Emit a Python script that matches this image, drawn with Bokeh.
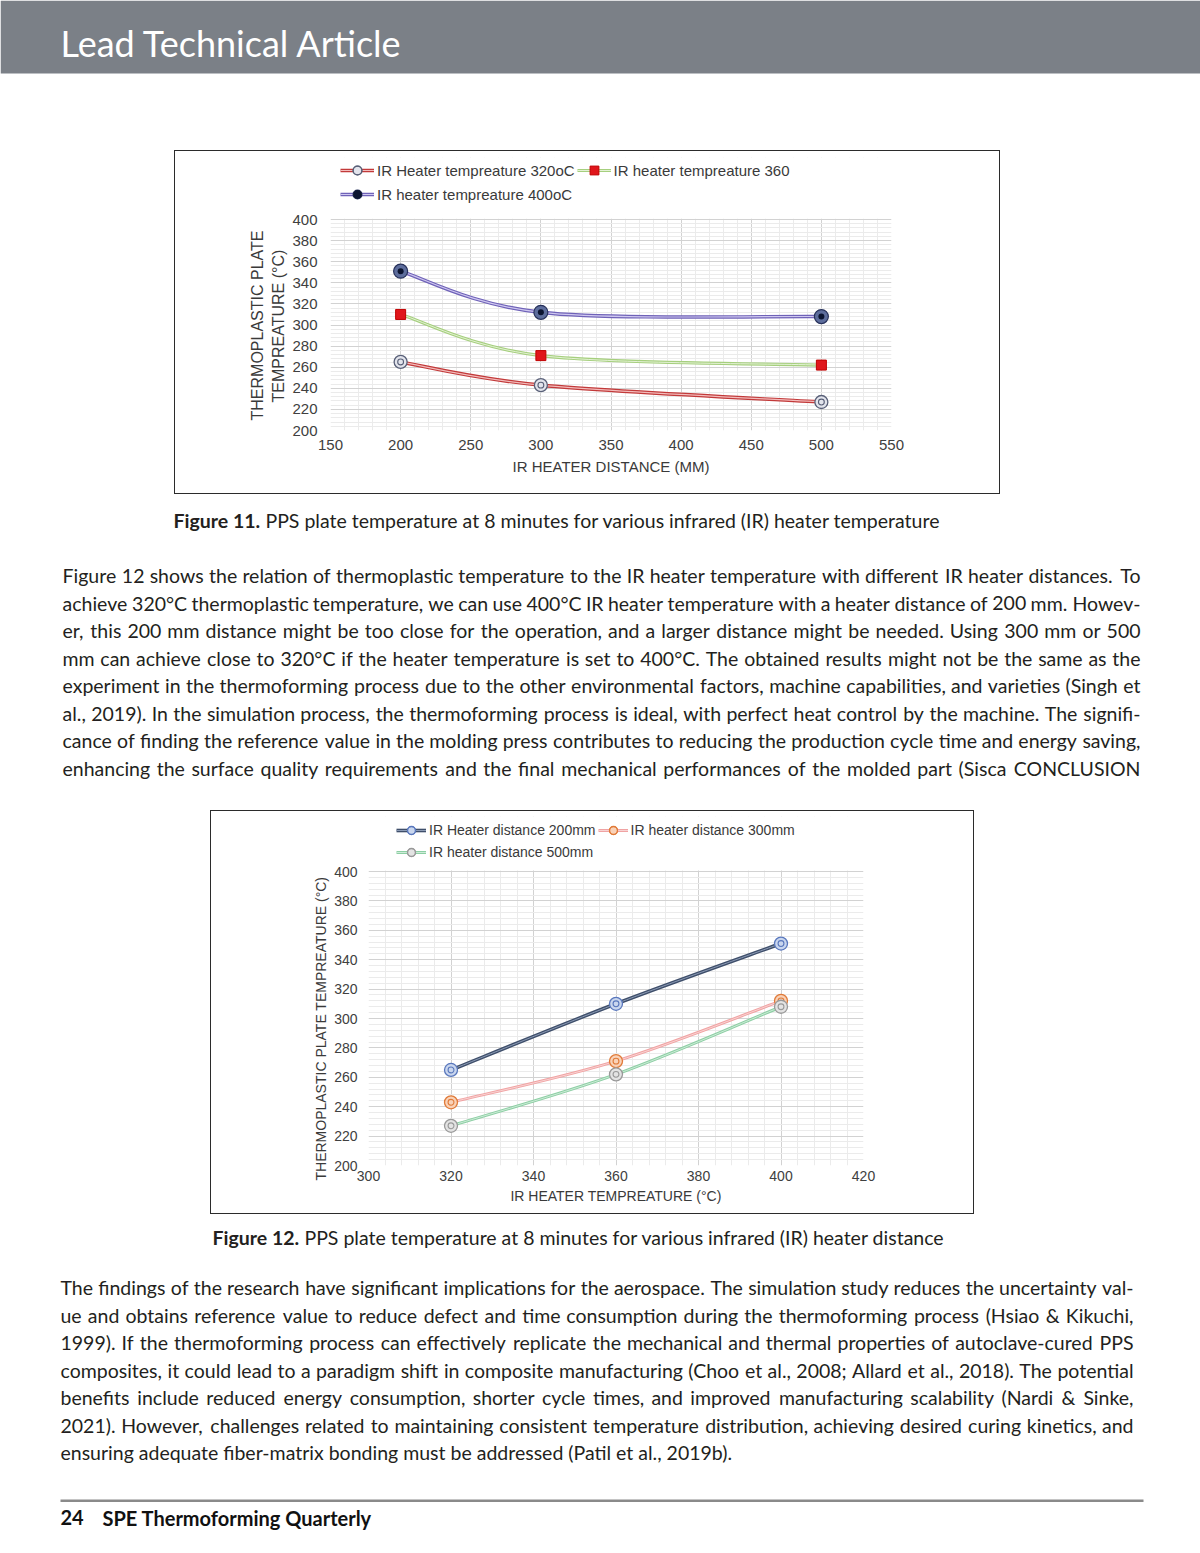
import os
import struct
import subprocess

from bokeh.plotting import figure
from bokeh.layouts import column, row
from bokeh.models import (Range1d, Spacer, FixedTicker, Legend, LegendItem, ColumnDataSource,
                          BoxAnnotation, Title)
from bokeh.core.properties import value
from bokeh.embed import file_html
from bokeh.resources import INLINE

# ---------------- data ----------------
# Figure 11: plate temperature vs IR heater distance
dist_mm = [200, 300, 500]
plate_320 = [265, 243, 227]
plate_360 = [310, 271, 262]
plate_400 = [351, 312, 308]
fig11_xticks = [150, 200, 250, 300, 350, 400, 450, 500, 550]
fig11_yticks = [200, 220, 240, 260, 280, 300, 320, 340, 360, 380, 400]

# Figure 12: plate temperature vs IR heater temperature
heater_temp = [320, 360, 400]
plate_200mm = [265, 310, 351]
plate_300mm = [243, 271, 312]
plate_500mm = [227, 262, 308]
fig12_xticks = [300, 320, 340, 360, 380, 400, 420]
fig12_yticks = [200, 220, 240, 260, 280, 300, 320, 340, 360, 380, 400]

# ---------------- page text ----------------
header_text = "Lead Technical Article"
caption11_bold = "Figure 11."
caption11_rest = "PPS plate temperature at 8 minutes for various infrared (IR) heater temperature"
caption12_bold = "Figure 12."
caption12_rest = "PPS plate temperature at 8 minutes for various infrared (IR) heater distance"
para1 = [
    "Figure 12 shows the relation of thermoplastic temperature to the IR heater temperature with different IR heater distances. To",
    "achieve 320°C thermoplastic temperature, we can use 400°C IR heater temperature with a heater distance of 200 mm. Howev-",
    "er, this 200 mm distance might be too close for the operation, and a larger distance might be needed. Using 300 mm or 500",
    "mm can achieve close to 320°C if the heater temperature is set to 400°C. The obtained results might not be the same as the",
    "experiment in the thermoforming process due to the other environmental factors, machine capabilities, and varieties (Singh et",
    "al., 2019). In the simulation process, the thermoforming process is ideal, with perfect heat control by the machine. The signifi-",
    "cance of finding the reference value in the molding press contributes to reducing the production cycle time and energy saving,",
    "enhancing the surface quality requirements and the final mechanical performances of the molded part (Sisca CONCLUSION",
]
para2 = [
    "The findings of the research have significant implications for the aerospace. The simulation study reduces the uncertainty val-",
    "ue and obtains reference value to reduce defect and time consumption during the thermoforming process (Hsiao & Kikuchi,",
    "1999). If the thermoforming process can effectively replicate the mechanical and thermal properties of autoclave-cured PPS",
    "composites, it could lead to a paradigm shift in composite manufacturing (Choo et al., 2008; Allard et al., 2018). The potential",
    "benefits include reduced energy consumption, shorter cycle times, and improved manufacturing scalability (Nardi & Sinke,",
    "2021). However, challenges related to maintaining consistent temperature distribution, achieving desired curing kinetics, and",
    "ensuring adequate fiber-matrix bonding must be addressed (Patil et al., 2019b).",
]
footer_num = "24"
footer_title = "SPE Thermoforming Quarterly"

BODY_FONT = "Lato"
BODY_FS = 19.5
TEXT_COLOR = "#231f20"
PAGE_W = 1200


# ---------------- font metrics (for justified text) ----------------
def find_font(filenames, fc_query):
    for d in ["/usr/share/fonts", "/usr/local/share/fonts",
              os.path.expanduser("~/.fonts"), os.path.expanduser("~/.local/share/fonts")]:
        if not os.path.isdir(d):
            continue
        for root, _, files in os.walk(d):
            for fn in files:
                if fn in filenames:
                    return os.path.join(root, fn)
    try:
        r = subprocess.run(["fc-match", "-f", "%{file}", fc_query],
                           capture_output=True, text=True, timeout=10)
        path = r.stdout.strip()
        if path and os.path.exists(path) and "lato" in os.path.basename(path).lower():
            return path
    except Exception:
        pass
    return None


def make_measure(path):
    data = open(path, "rb").read()
    num_tables = struct.unpack(">H", data[4:6])[0]
    tables = {}
    for i in range(num_tables):
        tag, _cs, off, ln = struct.unpack(">4sIII", data[12 + 16 * i:28 + 16 * i])
        tables[tag.decode("latin1")] = (off, ln)
    head = tables["head"][0]
    upem = struct.unpack(">H", data[head + 18:head + 20])[0]
    hhea = tables["hhea"][0]
    n_hm = struct.unpack(">H", data[hhea + 34:hhea + 36])[0]
    hmtx = tables["hmtx"][0]
    adv = [struct.unpack(">H", data[hmtx + 4 * i:hmtx + 4 * i + 2])[0] for i in range(n_hm)]
    cmap = tables["cmap"][0]
    n_sub = struct.unpack(">H", data[cmap + 2:cmap + 4])[0]
    sub = None
    for i in range(n_sub):
        pid, eid, off = struct.unpack(">HHI", data[cmap + 4 + 8 * i:cmap + 12 + 8 * i])
        fmt = struct.unpack(">H", data[cmap + off:cmap + off + 2])[0]
        if fmt == 4 and pid in (0, 3):
            sub = cmap + off
            break
    if sub is None:
        return None
    segx2 = struct.unpack(">H", data[sub + 6:sub + 8])[0]
    seg = segx2 // 2
    ends = struct.unpack(">%dH" % seg, data[sub + 14:sub + 14 + segx2])
    starts = struct.unpack(">%dH" % seg, data[sub + 16 + segx2:sub + 16 + 2 * segx2])
    deltas = struct.unpack(">%dh" % seg, data[sub + 16 + 2 * segx2:sub + 16 + 3 * segx2])
    rpos = sub + 16 + 3 * segx2
    roffs = struct.unpack(">%dH" % seg, data[rpos:rpos + segx2])
    cache = {}

    def gid(c):
        if c in cache:
            return cache[c]
        g = 0
        for i in range(seg):
            if ends[i] >= c:
                if starts[i] <= c:
                    if roffs[i] == 0:
                        g = (c + deltas[i]) & 0xFFFF
                    else:
                        addr = rpos + 2 * i + roffs[i] + 2 * (c - starts[i])
                        gg = struct.unpack(">H", data[addr:addr + 2])[0]
                        g = (gg + deltas[i]) & 0xFFFF if gg else 0
                break
        cache[c] = g
        return g

    def measure(s, size):
        tot = 0
        for ch in s:
            g = gid(ord(ch))
            tot += adv[min(g, n_hm - 1)]
        return tot * size / upem

    return measure


measure_reg = None
measure_bold = None
try:
    pr = find_font(["Lato-Regular.ttf"], "Lato:style=Regular")
    if pr:
        measure_reg = make_measure(pr)
    pb = find_font(["Lato-Bold.ttf"], "Lato:style=Bold")
    if pb:
        measure_bold = make_measure(pb)
except Exception:
    measure_reg = None
    measure_bold = None

# rendered alphabetic baseline sits ~0.39 em below the requested y; compensate
BASE_SHIFT = 0.39


def base(y, fs):
    return y - BASE_SHIFT * fs


# ---------------- helpers ----------------
def text_fig(h):
    f = figure(width=PAGE_W, height=h, x_range=Range1d(0, PAGE_W), y_range=Range1d(h, 0),
               x_axis_type=None, y_axis_type=None, toolbar_location=None,
               output_backend="svg", min_border=0, outline_line_color=None,
               background_fill_color="white", border_fill_color="white")
    f.xgrid.visible = False
    f.ygrid.visible = False
    return f


def paragraph(f, lines, x0, x1, base0, pitch, justify_last):
    lx, ly, lt = [], [], []
    rx, ry, rt = [], [], []
    for i, line in enumerate(lines):
        y = base(base0 + pitch * i, BODY_FS)
        last = i == len(lines) - 1
        words = line.split(" ")
        if measure_reg is None or (last and not justify_last) or len(words) < 2:
            lx.append(x0); ly.append(y); lt.append(line)
            continue
        ws = [measure_reg(w, BODY_FS) for w in words]
        gap = (x1 - x0 - sum(ws)) / (len(words) - 1)
        x = x0
        for j, (w, wd) in enumerate(zip(words, ws)):
            if j == len(words) - 1:
                rx.append(x1); ry.append(y); rt.append(w)
            else:
                lx.append(x); ly.append(y); lt.append(w)
            x += wd + gap
    common = dict(text_font=value(BODY_FONT), text_font_size="%.1fpx" % BODY_FS,
                  text_color=TEXT_COLOR, text_baseline="alphabetic")
    f.text(x=lx, y=ly, text=lt, text_align="left", **common)
    if rx:
        f.text(x=rx, y=ry, text=rt, text_align="right", **common)


def caption(f, x, y, bold, rest):
    yy = base(y, BODY_FS)
    f.text(x=[x], y=[yy], text=[bold], text_font=value(BODY_FONT), text_font_style="bold",
           text_font_size="%.1fpx" % BODY_FS, text_color=TEXT_COLOR,
           text_baseline="alphabetic", text_align="left")
    if measure_bold is not None and measure_reg is not None:
        xr = x + measure_bold(bold, BODY_FS) + measure_reg(" ", BODY_FS)
    else:
        xr = x + 100
    f.text(x=[xr], y=[yy], text=[rest], text_font=value(BODY_FONT),
           text_font_size="%.1fpx" % BODY_FS, text_color=TEXT_COLOR,
           text_baseline="alphabetic", text_align="left")


def minor_of(ticks, n=5):
    out = []
    for a, b in zip(ticks[:-1], ticks[1:]):
        for k in range(1, n):
            out.append(a + (b - a) * k / n)
    return out


def smooth_source(xs, ys, t=1.0 / 6.0):
    pts = list(zip(xs, ys))
    n = len(pts)
    d = dict(x0=[], y0=[], x1=[], y1=[], cx0=[], cy0=[], cx1=[], cy1=[])
    for i in range(n - 1):
        p0 = pts[i - 1] if i > 0 else pts[i]
        p1 = pts[i]
        p2 = pts[i + 1]
        p3 = pts[i + 2] if i + 2 < n else pts[i + 1]
        d["x0"].append(p1[0]); d["y0"].append(p1[1])
        d["x1"].append(p2[0]); d["y1"].append(p2[1])
        d["cx0"].append(p1[0] + (p2[0] - p0[0]) * t); d["cy0"].append(p1[1] + (p2[1] - p0[1]) * t)
        d["cx1"].append(p2[0] - (p3[0] - p1[0]) * t); d["cy1"].append(p2[1] - (p3[1] - p1[1]) * t)
    return ColumnDataSource(d)


def curve(p, xs, ys, outer, inner, w_out, w_in):
    src = smooth_source(xs, ys)
    a = p.bezier(x0="x0", y0="y0", x1="x1", y1="y1", cx0="cx0", cy0="cy0", cx1="cx1", cy1="cy1",
                 source=src, line_color=outer, line_width=w_out)
    b = p.bezier(x0="x0", y0="y0", x1="x1", y1="y1", cx0="cx0", cy0="cy0", cx1="cx1", cy1="cy1",
                 source=src, line_color=inner, line_width=w_in)
    return [a, b]


def ring(p, xs, ys, fill, edge, size=13):
    a = p.scatter(xs, ys, marker="circle", size=size, fill_color=fill, line_color=edge, line_width=1.3)
    b = p.scatter(xs, ys, marker="circle", size=size * 0.45, fill_color=None, line_color=edge,
                  line_width=1.1)
    return [a, b]


def style_chart(p, tick_fs, xlab_fs, x_stand, xl_stand, y_stand):
    for ax in (p.xaxis[0], p.yaxis[0]):
        ax.axis_line_color = None
        ax.major_tick_line_color = None
        ax.minor_tick_line_color = None
        ax.major_tick_out = 0
        ax.major_tick_in = 0
        ax.minor_tick_out = 0
        ax.minor_tick_in = 0
        ax.major_label_text_font = "Liberation Sans"
        ax.major_label_text_font_size = tick_fs
        ax.major_label_text_color = "#404040"
        ax.axis_label_text_font = "Liberation Sans"
        ax.axis_label_text_font_style = "normal"
        ax.axis_label_text_color = "#3a3a3a"
    p.xaxis[0].axis_label_text_font_size = xlab_fs
    p.xaxis[0].major_label_standoff = x_stand
    p.xaxis[0].axis_label_standoff = xl_stand
    p.yaxis[0].major_label_standoff = y_stand
    for g in (p.xgrid[0], p.ygrid[0]):
        g.grid_line_color = "#d2d2d2"
        g.grid_line_width = 1
        g.minor_grid_line_color = "#ebebeb"
        g.minor_grid_line_width = 1


def y_title(p, text, fs, offset, standoff):
    # vertical title on the left; align="left" anchors the text start at the frame bottom,
    # offset moves it up (positive) or down (negative)
    t = Title(text=text, align="left", offset=offset, standoff=standoff,
              text_font="Liberation Sans", text_font_size=fs, text_font_style="normal",
              text_color="#3a3a3a")
    p.add_layout(t, "left")


def style_legend(leg, fs, row_h, glyph_w):
    leg.orientation = "horizontal"
    leg.ncols = 2
    leg.label_text_font = "Liberation Sans"
    leg.label_text_font_size = fs
    leg.label_text_color = "#3a3a3a"
    leg.label_height = row_h
    leg.glyph_height = row_h
    leg.glyph_width = glyph_w
    leg.label_standoff = 3
    leg.spacing = 2
    leg.padding = 0
    leg.margin = 0
    leg.border_line_color = None
    leg.background_fill_alpha = 0


# ---------------- block A: header (page y 0..150) ----------------
blockA = text_fig(150)
blockA.quad(left=[0], right=[PAGE_W], top=[0], bottom=[73], fill_color="#7b8087", line_color=None)
blockA.text(x=[60], y=[base(57, 36)], text=[header_text], text_font=value(BODY_FONT),
            text_font_size="36px", text_color="white", text_baseline="alphabetic", text_align="left")

# ---------------- block B: Figure 11 chart (page y 150..496) ----------------
# frame spans page y 157..430; 200..400 occupies 219..430, the band above holds the legend
Y1_TOP = 200 + (430 - 157) * 200.0 / (430 - 219)
p1 = figure(width=826, height=344, x_range=Range1d(150, 550), y_range=Range1d(200, Y1_TOP),
            output_backend="svg", toolbar_location=None,
            min_border_left=155, min_border_right=110, min_border_top=6, min_border_bottom=65,
            outline_line_color=None, background_fill_color="white", border_fill_color="white",
            styles={"border": "1px solid #2b2b2b"})
p1.xaxis[0].ticker = FixedTicker(ticks=fig11_xticks, minor_ticks=minor_of(fig11_xticks))
p1.yaxis[0].ticker = FixedTicker(ticks=fig11_yticks, minor_ticks=minor_of(fig11_yticks))
p1.xaxis[0].axis_label = "IR HEATER DISTANCE (MM)"
style_chart(p1, "15px", "15px", 9, 5, 13)
# second line sits nearer the axis, so it is added first
y_title(p1, "TEMPREATURE (°C)", "16px", 28, 5)
y_title(p1, "THERMOPLASTIC PLATE", "16px", 10, 0)
p1.add_layout(BoxAnnotation(bottom=fig11_yticks[-1] + 0.8, top=Y1_TOP, fill_color="white",
                            fill_alpha=1.0, line_alpha=0))

c320 = curve(p1, dist_mm, plate_320, "#c23a3a", "#f3bcbc", 3.6, 1.2)
c360 = curve(p1, dist_mm, plate_360, "#a6cf7e", "#e4f2d6", 3.2, 1.0)
c400 = curve(p1, dist_mm, plate_400, "#6f62b8", "#cfc8f0", 3.6, 1.2)
r320 = ring(p1, dist_mm, plate_320, "#e2e4ec", "#596078", 13)
s360 = p1.scatter(dist_mm, plate_360, marker="square", size=10, fill_color="#e0161b",
                  line_color="#c00000")
d400a = p1.scatter(dist_mm, plate_400, marker="circle", size=14, fill_color="#5d6d9c",
                   line_color="#26305a", line_width=1.2)
d400b = p1.scatter(dist_mm, plate_400, marker="circle", size=6, fill_color="#0b1430", line_color=None)

# legend location: (x from frame left, legend bottom measured up from frame bottom)
leg1 = Legend(items=[
    LegendItem(label="IR Heater tempreature 320oC", renderers=c320 + r320),
    LegendItem(label="IR heater tempreature 360", renderers=c360 + [s360]),
    LegendItem(label="IR heater tempreature 400oC", renderers=c400 + [d400a, d400b]),
], location=(10, 225))
style_legend(leg1, "15px", 22, 34)
p1.add_layout(leg1)

blockB = row(Spacer(width=174, height=346), p1, Spacer(width=198, height=346))

# ---------------- block C: caption 11 + paragraph 1 (page y 496..810) ----------------
C0 = 496
blockC = text_fig(314)
caption(blockC, 173, 528 - C0, caption11_bold, caption11_rest)
paragraph(blockC, para1, 62, 1140, 583 - C0, 27.45, True)

# ---------------- block D: Figure 12 chart (page y 810..1216) ----------------
# frame spans page y 816..1165; 200..400 occupies 871..1165
Y2_TOP = 200 + (1165 - 816) * 200.0 / (1165 - 871)
p2 = figure(width=764, height=404, x_range=Range1d(300, 420), y_range=Range1d(200, Y2_TOP),
            output_backend="svg", toolbar_location=None,
            min_border_left=157, min_border_right=112, min_border_top=5, min_border_bottom=50,
            outline_line_color=None, background_fill_color="white", border_fill_color="white",
            styles={"border": "1px solid #2b2b2b"})
p2.xaxis[0].ticker = FixedTicker(ticks=fig12_xticks, minor_ticks=minor_of(fig12_xticks))
p2.yaxis[0].ticker = FixedTicker(ticks=fig12_yticks, minor_ticks=minor_of(fig12_yticks))
p2.xaxis[0].axis_label = "IR HEATER TEMPREATURE (°C)"
style_chart(p2, "14px", "14px", 5, 4, 11)
y_title(p2, "THERMOPLASTIC PLATE TEMPREATURE (°C)", "14px", -15, 5)
p2.add_layout(BoxAnnotation(bottom=fig12_yticks[-1] + 0.6, top=Y2_TOP, fill_color="white",
                            fill_alpha=1.0, line_alpha=0))

k200 = curve(p2, heater_temp, plate_200mm, "#3f4f6b", "#8c9bb5", 3.6, 1.0)
k300 = curve(p2, heater_temp, plate_300mm, "#f0a3a3", "#f9d3d3", 3.0, 1.0)
k500 = curve(p2, heater_temp, plate_500mm, "#8dcfa4", "#cdebd8", 3.0, 1.0)
q200 = ring(p2, heater_temp, plate_200mm, "#c9d6ee", "#5a78bd", 13)
q300 = ring(p2, heater_temp, plate_300mm, "#f9d2b8", "#e07b39", 13)
q500 = ring(p2, heater_temp, plate_500mm, "#e3e3e3", "#999999", 13)

leg2 = Legend(items=[
    LegendItem(label="IR Heater distance 200mm", renderers=k200 + q200),
    LegendItem(label="IR heater distance 300mm", renderers=k300 + q300),
    LegendItem(label="IR heater distance 500mm", renderers=k500 + q500),
], location=(28, 303))
style_legend(leg2, "14px", 20, 30)
p2.add_layout(leg2)

blockD = row(Spacer(width=210, height=406), p2, Spacer(width=224, height=406))

# ---------------- block E: caption 12 + paragraph 2 + footer (page y 1216..1553) ----------------
E0 = 1216
blockE = text_fig(337)
caption(blockE, 212, 1245 - E0, caption12_bold, caption12_rest)
paragraph(blockE, para2, 60, 1133, 1295 - E0, 27.45, False)
blockE.quad(left=[60], right=[1143], top=[1499 - E0], bottom=[1501.5 - E0], fill_color="#8a8a8a",
            line_color=None)
blockE.text(x=[60], y=[base(1525, 20) - E0], text=[footer_num], text_font=value(BODY_FONT),
            text_font_style="bold", text_font_size="20px", text_color="#111111",
            text_baseline="alphabetic", text_align="left")
blockE.text(x=[102], y=[base(1525, 20) - E0], text=[footer_title], text_font=value(BODY_FONT),
            text_font_style="bold", text_font_size="20px", text_color="#111111",
            text_baseline="alphabetic", text_align="left")

page = column(blockA, blockB, blockC, blockD, blockE, spacing=0)

open("out.html", "w").write(file_html(page, INLINE))
